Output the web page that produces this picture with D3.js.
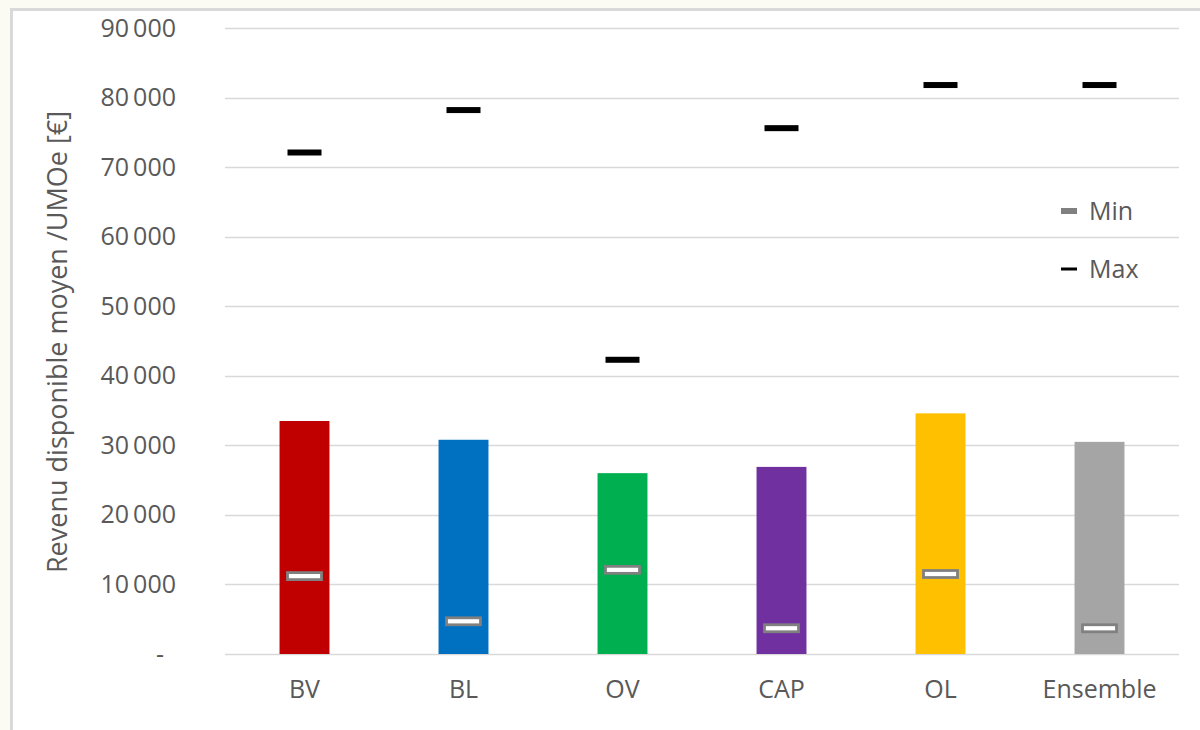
<!DOCTYPE html>
<html>
<head>
<meta charset="utf-8">
<script src="https://cdn.jsdelivr.net/npm/d3@7"></script>
<style>
  html, body { margin: 0; padding: 0; background: #fbfaf3; }
  svg { display: block; font-family: "Open Sans", "Noto Sans", sans-serif; }
</style>
</head>
<body>
<svg id="chart" width="1200" height="730"></svg>
<script>
// chart data
var categories = ["BV", "BL", "OV", "CAP", "OL", "Ensemble"];
var avgValues  = [33500, 30800, 26000, 26900, 34600, 30500];
var minValues  = [11200, 4700, 12100, 3700, 11500, 3700];
var maxValues  = [72100, 78200, 42300, 75600, 81800, 81800];
var barColors  = ["#c00000", "#0070c0", "#00b050", "#7030a0", "#ffc000", "#a5a5a5"];
var yTicks     = [0, 10000, 20000, 30000, 40000, 50000, 60000, 70000, 80000, 90000];

var svg = d3.select("svg#chart");

// panel with grey frame
svg.append("rect")
    .attr("x", 11.5).attr("y", 9.5)
    .attr("width", 1200).attr("height", 740)
    .style("fill", "#ffffff")
    .style("stroke", "#d9d9d9")
    .style("stroke-width", 3);

var plotLeft = 225, plotRight = 1179, plotTop = 28, plotBottom = 654;
var fontSize = "25px";

var x = d3.scaleBand().domain(categories).range([plotLeft, plotRight]).paddingInner(0.686).paddingOuter(0.343);
var y = d3.scaleLinear().domain([0, 90000]).range([plotBottom, plotTop]);

var fmt = function(v){
    if (v == 0) return "-";
    return d3.format(",")(v).replace(/,/g, "\u2009");
};

// gridlines
svg.append("g")
    .selectAll("line")
    .data(yTicks)
    .enter()
    .append("line")
    .attr("x1", plotLeft).attr("x2", plotRight)
    .attr("y1", function(d){return Math.round(y(d)) + 0.5})
    .attr("y2", function(d){return Math.round(y(d)) + 0.5})
    .style("stroke", "#d9d9d9")
    .style("stroke-width", 1.5);

// y axis labels
var yAxis = d3.axisLeft(y).tickValues(yTicks).tickFormat(fmt).tickSize(0).tickPadding(0);
var gy = svg.append("g").attr("transform", "translate(176,0)").call(yAxis);
gy.select(".domain").remove();
gy.selectAll("text")
    .style("font-size", fontSize)
    .style("font-family", "'Open Sans', sans-serif")
    .style("fill", "#595959")
    .attr("dx", function(d){return d == 0 ? -12 : 0});

// y axis title
svg.append("text")
    .attr("transform", "translate(67,342) rotate(-90)")
    .attr("text-anchor", "middle")
    .style("font-size", "27px")
    .style("fill", "#595959")
    .text("Revenu disponible moyen /UMOe [€]");

// x axis labels
var xAxis = d3.axisBottom(x).tickSize(0).tickPadding(0);
var gx = svg.append("g").attr("transform", "translate(0," + (plotBottom + 26) + ")").call(xAxis);
gx.select(".domain").remove();
gx.selectAll("text")
    .style("font-size", fontSize)
    .style("font-family", "'Open Sans', sans-serif")
    .style("fill", "#595959");

// bars
svg.append("g")
    .selectAll("rect")
    .data(avgValues)
    .enter()
    .append("rect")
    .attr("x", function(d, i){return x(categories[i])})
    .attr("y", function(d){return y(d)})
    .attr("width", x.bandwidth())
    .attr("height", function(d){return plotBottom - y(d)})
    .style("fill", function(d, i){return barColors[i]});

// max markers
svg.append("g")
    .selectAll("rect")
    .data(maxValues)
    .enter()
    .append("rect")
    .attr("x", function(d, i){return x(categories[i]) + x.bandwidth() / 2 - 17})
    .attr("y", function(d){return y(d) - 3})
    .attr("width", 34)
    .attr("height", 6)
    .style("fill", "#000000");

// min markers
svg.append("g")
    .selectAll("rect")
    .data(minValues)
    .enter()
    .append("rect")
    .attr("x", function(d, i){return x(categories[i]) + x.bandwidth() / 2 - 17})
    .attr("y", function(d){return y(d) - 3.5})
    .attr("width", 34)
    .attr("height", 7)
    .style("fill", "#ffffff")
    .style("stroke", "#808080")
    .style("stroke-width", 2.8);

// legend
var legend = [{name: "Min", color: "#808080", h: 6, y: 211}, {name: "Max", color: "#000000", h: 3, y: 269}];
var lg = svg.append("g");
lg.selectAll("rect")
    .data(legend)
    .enter()
    .append("rect")
    .attr("x", 1061).attr("width", 16)
    .attr("y", function(d){return d.y - d.h / 2})
    .attr("height", function(d){return d.h})
    .style("fill", function(d){return d.color});
lg.selectAll("text")
    .data(legend)
    .enter()
    .append("text")
    .attr("x", 1089)
    .attr("y", function(d){return d.y})
    .attr("dy", "0.35em")
    .style("font-size", fontSize)
    .style("fill", "#595959")
    .text(function(d){return d.name});
</script>
</body>
</html>
